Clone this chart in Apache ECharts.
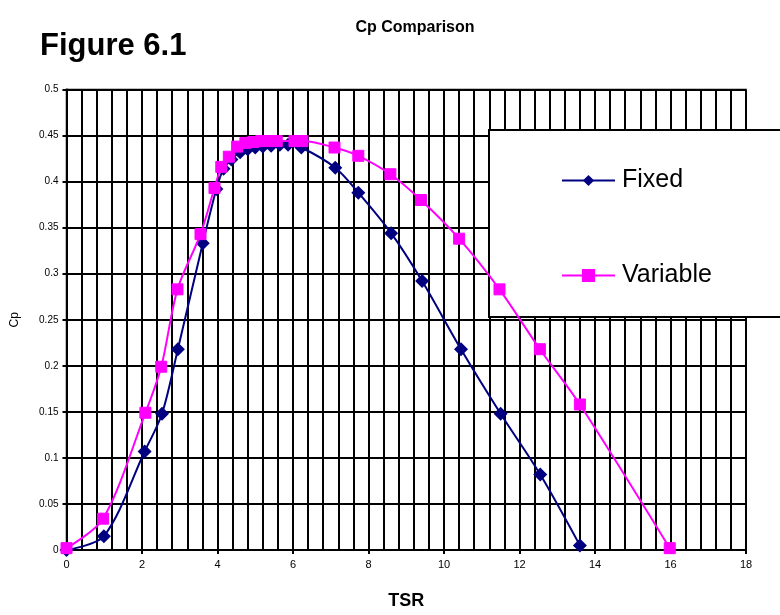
<!DOCTYPE html>
<html>
<head>
<meta charset="utf-8">
<script src="https://cdn.jsdelivr.net/npm/echarts@6/dist/echarts.min.js"></script>
<style>
  html, body { margin: 0; padding: 0; background: #fff; }
  #chart { width: 780px; height: 615px; }
</style>
</head>
<body>
<div id="chart"></div>
<script>
// Tip speed ratio (TSR) and power coefficient (Cp) for both rotor setups
const fixedTsr = [0, 0.99, 2.07, 2.53, 2.95, 3.61, 3.97, 4.16, 4.37, 4.6, 4.8, 5.0, 5.2, 5.42, 5.65, 5.87, 6.22, 7.12, 7.73, 8.6, 9.42, 10.45, 11.5, 12.55, 13.6];
const fixedCp  = [0, 0.015, 0.107, 0.148, 0.218, 0.333, 0.392, 0.414, 0.424, 0.432, 0.435, 0.437, 0.438, 0.439, 0.44, 0.44, 0.437, 0.415, 0.388, 0.344, 0.292, 0.218, 0.148, 0.082, 0.005];

const variableTsr = [0, 0.97, 2.09, 2.51, 2.94, 3.55, 3.92, 4.1, 4.3, 4.52, 4.74, 4.95, 5.16, 5.37, 5.57, 6.04, 6.25, 7.1, 7.73, 8.58, 9.39, 10.4, 11.47, 12.54, 13.6, 15.98];
const variableCp  = [0.002, 0.034, 0.149, 0.199, 0.283, 0.343, 0.393, 0.416, 0.427, 0.438, 0.442, 0.443, 0.444, 0.444, 0.444, 0.444, 0.444, 0.437, 0.428, 0.408, 0.38, 0.338, 0.283, 0.218, 0.158, 0.002];

const seriesNames = ['Fixed', 'Variable'];
const seriesColors = ['#000080', '#FF00FF'];

const pairs = (xs, ys) => xs.map((x, i) => [x, ys[i]]);

const chart = echarts.init(document.getElementById('chart'), null, { renderer: 'canvas' });

const font = 'Arial, "Liberation Sans", sans-serif';

chart.setOption({
  animation: false,
  backgroundColor: '#fff',
  textStyle: { fontFamily: font },
  title: [
    {
      text: 'Cp Comparison',
      left: 410, top: 15, textAlign: 'center',
      textStyle: { fontSize: 16, fontWeight: 'bold', color: '#000', fontFamily: font }
    },
    {
      text: 'Figure 6.1',
      left: 35, top: 26,
      textStyle: { fontSize: 31, fontWeight: 'bold', color: '#000', fontFamily: font }
    }
  ],
  grid: {
    left: 66.5, right: 34, top: 89.5, bottom: 65,
    show: true, borderColor: '#808080', borderWidth: 2, backgroundColor: '#fff'
  },
  legend: {
    orient: 'vertical',
    left: 489, top: 130,
    padding: [38, 300, 29, 72],
    itemGap: 70,
    itemWidth: 53, itemHeight: 14,
    backgroundColor: '#fff',
    borderColor: '#000', borderWidth: 2,
    textStyle: { fontSize: 25, color: '#000', fontFamily: font, padding: [0, 0, 0, 2] },
    data: seriesNames
  },
  xAxis: {
    type: 'value', min: 0, max: 18, interval: 2,
    name: 'TSR', nameLocation: 'middle', nameGap: 42,
    nameTextStyle: { fontSize: 18, fontWeight: 'bold', color: '#000' },
    axisLine: { show: true, onZero: false, lineStyle: { color: '#000', width: 2 } },
    axisTick: { show: true, length: 4, lineStyle: { color: '#000', width: 2 } },
    axisLabel: { fontSize: 11, color: '#000', margin: 9 },
    splitLine: { show: true, lineStyle: { color: '#000', width: 2 } },
    minorTick: { show: false, splitNumber: 5 },
    minorSplitLine: { show: true, lineStyle: { color: '#000', width: 2 } }
  },
  yAxis: {
    type: 'value', min: 0, max: 0.5, interval: 0.05,
    name: 'Cp', nameLocation: 'middle', nameGap: 46, nameRotate: 90,
    nameTextStyle: { fontSize: 12, color: '#000' },
    axisLine: { show: true, lineStyle: { color: '#000', width: 2 } },
    axisTick: { show: true, length: 4, lineStyle: { color: '#000', width: 2 } },
    axisLabel: { fontSize: 10, color: '#000', margin: 8 },
    splitLine: { show: true, lineStyle: { color: '#000', width: 2 } }
  },
  series: [
    {
      name: seriesNames[0], type: 'line',
      data: pairs(fixedTsr, fixedCp),
      smooth: 0.3,
      symbol: 'diamond', symbolSize: 14,
      lineStyle: { color: seriesColors[0], width: 2 },
      itemStyle: { color: seriesColors[0] },
      z: 3
    },
    {
      name: seriesNames[1], type: 'line',
      data: pairs(variableTsr, variableCp),
      smooth: 0.3,
      symbol: 'rect', symbolSize: 11,
      lineStyle: { color: seriesColors[1], width: 2 },
      itemStyle: { color: seriesColors[1], borderColor: seriesColors[1], borderWidth: 1 },
      z: 4
    }
  ]
});
</script>
</body>
</html>
